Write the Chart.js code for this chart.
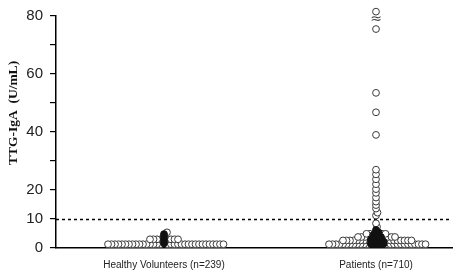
<!DOCTYPE html>
<html>
<head>
<meta charset="utf-8">
<script src="https://cdn.jsdelivr.net/npm/chart.js@4.4.1/dist/chart.umd.min.js"></script>
<style>
  html, body { margin: 0; padding: 0; background: #fff; }
</style>
</head>
<body>
<canvas id="chart" width="460" height="273"></canvas>
<script>
// groups on the x axis
const categories = ['Healthy Volunteers (n=239)', 'Patients (n=710)'];
// y axis
const yMax = 80;
const yTickLabels = [0, 10, 20, 40, 60, 80];
const cutoff = 10;      // dashed line
const breakAt = 79;     // axis break mark in the patients column

// TTG-IgA values (U/mL), one per drawn circle.
// "core" = the circles packed so tight in the middle that they show as solid black
const healthyCore = [1.6, 2.4, 3.2, 4.0, 4.8];
const healthyValues = [
    1.3, 1.3, 1.3, 1.3, 1.3, 1.3, 1.3, 1.3, 1.3, 1.3,
    1.3, 1.3, 1.3, 1.3, 1.3, 1.3, 1.3, 1.3, 1.3, 1.3,
    1.3, 1.3, 1.3, 1.3, 1.3, 1.3, 1.3, 1.3, 1.3, 1.3,
    1.3, 1.3, 1.3,
    3.0, 3.0, 3.0, 3.0, 3.0, 3.0, 3.0, 3.0,
    5.4
];
const patientCore = [
    1.4, 1.4, 1.4, 1.4, 1.4, 1.4,
    2.2, 2.2, 2.2, 2.2, 2.2, 2.2,
    3.0, 3.0, 3.0, 3.0, 3.0,
    3.8, 3.8, 3.8, 3.8,
    4.6, 4.6, 4.6,
    5.4, 5.4,
    6.2
];
const patientValues = [
    1.3, 1.3, 1.3, 1.3, 1.3, 1.3, 1.3, 1.3, 1.3, 1.3,
    1.3, 1.3, 1.3, 1.3, 1.3, 1.3, 1.3, 1.3, 1.3, 1.3,
    1.3, 1.3, 1.3, 1.3,
    2.6, 2.6, 2.6, 2.6, 2.6, 2.6, 2.6, 2.6, 2.6, 2.6,
    2.6, 2.6, 2.6, 2.6, 2.6, 2.6,
    3.8, 3.8, 3.8, 3.8, 3.8, 3.8, 3.8, 3.8,
    4.9, 4.9, 4.9, 4.9,
    7.3, 8.5,
    11.2, 12.2, 13.6, 14.8, 16.0, 17.4, 19.0, 20.3, 22.0, 23.7, 25.4, 27.0,
    39.0, 46.8, 53.5, 75.5, 81.5
];

// plot geometry used for the swarm layout
const plotLeft = 56, plotRight = 452, plotTop = 12, plotBottom = 248;
const groupPx = 212;                       // px between the two groups
const healthyPx = 164;                     // px of the healthy column
const yPx = (plotBottom - plotTop) / yMax; // px per U/mL
const xMin = -(healthyPx - plotLeft) / groupPx;
const xMax = 1 + (plotRight - (healthyPx + groupPx)) / groupPx;

const radius = 3.4;
const openDist = 3.3;   // spacing of open circles
const coreDist = 2.2;   // spacing inside the black core

// simple beeswarm: core circles first, then the open ones, each as close to the centre as it can
function swarm(core, values) {
    const items = core.map(v => ({ v, core: true }))
        .concat(values.map(v => ({ v, core: false })));
    const placed = [];
    items.forEach(it => {
        const py = it.v * yPx;
        for (let k = 0; ; k++) {
            const dx = (k % 2 ? 1 : -1) * Math.ceil(k / 2) * 0.5;
            const free = placed.every(p => {
                const d = p.core && it.core ? coreDist : openDist;
                return Math.hypot(p.x - dx, p.y - py) >= d;
            });
            if (free) {
                placed.push({ x: dx, y: py, v: it.v, core: it.core });
                break;
            }
        }
    });
    return placed;
}

function buildDataset(core, values, group) {
    const placed = swarm(core, values.slice().sort((a, b) => a - b));
    // open circles drawn first, black core on top
    placed.sort((a, b) => a.core - b.core);
    return {
        data: placed.map(p => ({ x: group + p.x / groupPx, y: p.v })),
        pointRadius: radius,
        pointHoverRadius: radius,
        pointBorderWidth: 1,
        pointBorderColor: placed.map(p => p.core ? '#111' : '#3a3a3a'),
        pointBackgroundColor: placed.map(p => p.core ? '#111' : '#fff'),
        showLine: false,
        clip: false
    };
}

const extras = {
    id: 'extras',
    beforeDatasetsDraw(chart) {
        const { ctx, chartArea: a, scales: { y } } = chart;
        const yy = Math.round(y.getPixelForValue(cutoff)) + 0.5;
        ctx.save();
        ctx.setLineDash([3, 3]);
        ctx.lineWidth = 1.5;
        ctx.strokeStyle = '#000';
        ctx.beginPath();
        ctx.moveTo(a.left, yy);
        ctx.lineTo(a.right, yy);
        ctx.stroke();
        ctx.restore();
    },
    afterDraw(chart) {
        const { ctx, scales: { x, y } } = chart;
        ctx.save();
        // break mark
        ctx.fillStyle = '#444';
        ctx.font = '14px "DejaVu Sans"';
        ctx.textAlign = 'center';
        ctx.textBaseline = 'middle';
        ctx.fillText('\u2248', x.getPixelForValue(1), y.getPixelForValue(breakAt));
        // y title
        ctx.translate(14, 113);
        ctx.rotate(-Math.PI / 2);
        ctx.fillStyle = '#111';
        ctx.font = 'bold 13.5px "Liberation Serif"';
        ctx.fillText('TTG-IgA  (U/mL)', 0, 0);
        ctx.restore();
    }
};

new Chart(document.getElementById('chart'), {
    type: 'scatter',
    data: {
        datasets: [
            buildDataset(healthyCore, healthyValues, 0),
            buildDataset(patientCore, patientValues, 1)
        ]
    },
    options: {
        responsive: false,
        animation: false,
        devicePixelRatio: 1,
        layout: { padding: { top: plotTop, right: 460 - plotRight, left: 0, bottom: 0 } },
        plugins: { legend: { display: false }, tooltip: { enabled: false } },
        scales: {
            x: {
                type: 'linear',
                min: xMin,
                max: xMax,
                afterBuildTicks: s => { s.ticks = categories.map((c, i) => ({ value: i })); },
                afterFit: s => { s.height = 273 - plotBottom; },
                ticks: {
                    callback: v => categories[v],
                    autoSkip: false,
                    maxRotation: 0,
                    padding: 11,
                    color: '#222',
                    font: { family: 'Liberation Sans', size: 10 }
                },
                grid: { display: false, drawTicks: false },
                border: { display: true, color: '#000', width: 1.5 }
            },
            y: {
                min: 0,
                max: yMax,
                afterFit: s => { s.width = plotLeft; },
                ticks: {
                    stepSize: 10,
                    callback: v => yTickLabels.includes(v) ? v : '',
                    padding: 7,
                    color: '#222',
                    font: { family: 'Liberation Sans', size: 15 }
                },
                grid: { drawOnChartArea: false, tickLength: 6, color: '#000', lineWidth: 1.2 },
                border: { color: '#000', width: 1.5 }
            }
        }
    },
    plugins: [extras]
});
</script>
</body>
</html>
